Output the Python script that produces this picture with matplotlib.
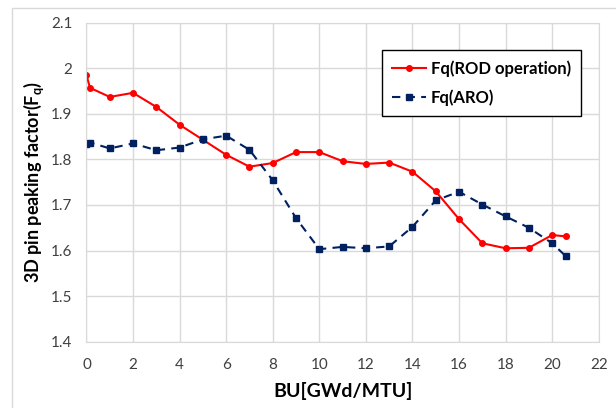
import matplotlib.pyplot as plt
from matplotlib.patches import Rectangle

plt.rcParams['font.family'] = ['Lato', 'DejaVu Sans']
plt.rcParams['mathtext.fontset'] = 'custom'
plt.rcParams['mathtext.bf'] = 'Lato:bold'
plt.rcParams['mathtext.rm'] = 'Lato'

# burnup points (GWd/MTU)
bu = [0, 0.15, 1, 2, 3, 4, 5, 6, 7, 8, 9, 10, 11, 12, 13, 14, 15, 16, 17, 18, 19, 20, 20.6]

fq_rod = [1.985, 1.957, 1.937, 1.946, 1.915, 1.876, 1.843, 1.810, 1.784, 1.792, 1.816, 1.816,
          1.796, 1.790, 1.793, 1.773, 1.730, 1.669, 1.616, 1.605, 1.606, 1.634, 1.631]
fq_aro = [1.834, 1.837, 1.824, 1.835, 1.820, 1.826, 1.844, 1.852, 1.821, 1.754, 1.671, 1.603,
          1.608, 1.605, 1.609, 1.652, 1.710, 1.729, 1.701, 1.675, 1.650, 1.616, 1.587]

xticks = list(range(0, 23, 2))
yticks = [1.4, 1.5, 1.6, 1.7, 1.8, 1.9, 2.0, 2.1]
ytick_labels = ['1.4', '1.5', '1.6', '1.7', '1.8', '1.9', '2', '2.1']

fig = plt.figure(figsize=(6.16, 4.08), dpi=100)
ax = fig.add_axes([0.1404, 0.1625, 0.8315, 0.782])

# outer chart border (cut off at right/bottom like the reference)
fig.patches.append(Rectangle((12 / 616, -0.1), 1.2, (408 - 8) / 408 + 0.1,
                             transform=fig.transFigure, fill=False,
                             edgecolor='#d9d9d9', linewidth=1.0))

ax.plot(bu, fq_rod, color='#ff0000', linewidth=1.5, marker='o', markersize=4,
        label='Fq(ROD operation)')
ax.plot(bu, fq_aro, color='#002060', linewidth=1.5, linestyle=(0, (4, 3)),
        marker='s', markersize=4, label='Fq(ARO)')

ax.set_xlim(0, 22)
ax.set_ylim(1.4, 2.1)
ax.set_xticks(xticks)
ax.set_yticks(yticks)
ax.set_yticklabels(ytick_labels)
ax.tick_params(length=0, labelsize=11, colors='#404040', pad=12)
ax.tick_params(axis='y', pad=10)
ax.grid(True, color='#d9d9d9', linewidth=1)
ax.set_axisbelow(True)
for s in ax.spines.values():
    s.set_color('#d9d9d9')

ax.set_xlabel('BU[GWd/MTU]', fontsize=14, fontweight='bold', labelpad=7)
ax.set_ylabel('3D pin peaking factor(F$_\\mathbf{q}$)', fontsize=13, fontweight='bold',
              labelpad=4)

leg = ax.legend(loc='upper right', bbox_to_anchor=(0.981, 0.94), fancybox=False,
                edgecolor='black', framealpha=1, prop={'weight': 'bold', 'size': 12},
                handlelength=2.0, borderpad=0.6, labelspacing=0.75, handletextpad=0.3)
leg.get_frame().set_linewidth(1.0)

fig.savefig('out.png', dpi=100)
